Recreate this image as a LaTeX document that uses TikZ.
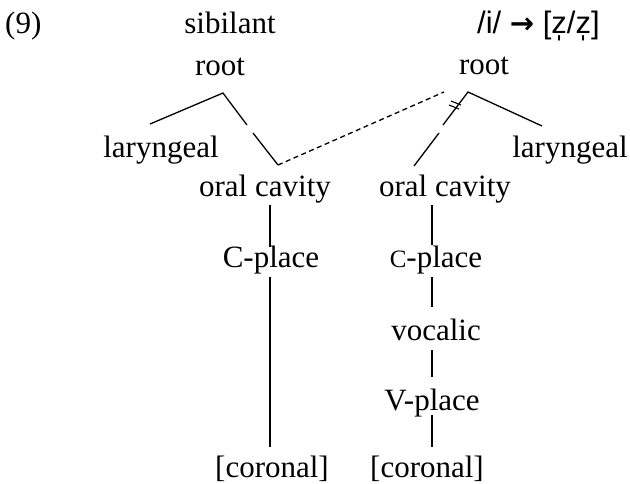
\documentclass[tikz,border=0pt]{standalone}
\usepackage{fontspec}
\setmainfont{Liberation Serif}
\newfontfamily\sansf{Liberation Sans}
\newfontfamily\arrowf{DejaVu Sans}
\begin{document}
\begin{tikzpicture}[x=1pt,y=-1pt,
  lbl/.style={inner sep=0pt,anchor=base,font=\fontsize{31}{36}\selectfont},
  assoc/.style={line width=1.3pt},
  dashedassoc/.style={line width=1.3pt,dash pattern=on 5pt off 3.5pt}]
\useasboundingbox (0,0) rectangle (630,483);
% labels
\node[lbl,anchor=base west] (num) at (5,33) {(9)};
\node[lbl] (sib) at (230,33) {sibilant};
\node[lbl,anchor=base west] (title) at (477,33) {\sansf\fontsize{31}{36}\selectfont /i/ {\arrowf\bfseries\fontsize{29}{33}\selectfont →} [z̩/z̩]};
\node[lbl] (rootL) at (220,75) {root};
\node[lbl] (rootR) at (484,74) {root};
\node[lbl] (larL) at (161,157) {laryngeal};
\node[lbl] (larR) at (570,157) {laryngeal};
\node[lbl] (oralL) at (265,196) {oral cavity};
\node[lbl] (oralR) at (445,196) {oral cavity};
\node[lbl] (cplL) at (271,267) {C-place};
\node[lbl] (cplR) at (436,267) {{\fontsize{25}{30}\selectfont C}-place};
\node[lbl] (voc) at (436,340) {vocalic};
\node[lbl] (vpl) at (432,410) {V-place};
\node[lbl] (corL) at (272,477) {[coronal]};
\node[lbl] (corR) at (427,477) {[coronal]};
% coordinates
\coordinate (apexL) at (223,93);
\coordinate (larLtop) at (150,124);
\coordinate (gapLa) at (247,125);
\coordinate (gapLb) at (253,133);
\coordinate (oralLtop) at (278,165);
\coordinate (apexR) at (468,92);
\coordinate (dashR) at (444,92);
\coordinate (larRtop) at (542,126);
\coordinate (gapRa) at (443,125);
\coordinate (gapRb) at (439,133);
\coordinate (oralRtop) at (414,166);
% left tree
\draw[assoc] (larLtop) -- (apexL) -- (gapLa);
\draw[assoc] (gapLb) -- (oralLtop);
\draw[dashedassoc] (oralLtop) -- (dashR);
\draw[assoc] (270,205) -- (270,247);
\draw[assoc] (270,277) -- (270,447);
% right tree
\draw[assoc] (gapRa) -- (apexR) -- (larRtop);
\draw[assoc] (gapRb) -- (oralRtop);
\draw[line width=1.1pt] (449,105) -- (459,109);
\draw[line width=1.1pt] (451,101) -- (461,105);
\draw[assoc] (432,205) -- (432,245);
\draw[assoc] (432,277) -- (432,307);
\draw[assoc] (432,350) -- (432,377);
\draw[assoc] (432,415) -- (432,447);
\end{tikzpicture}
\end{document}
